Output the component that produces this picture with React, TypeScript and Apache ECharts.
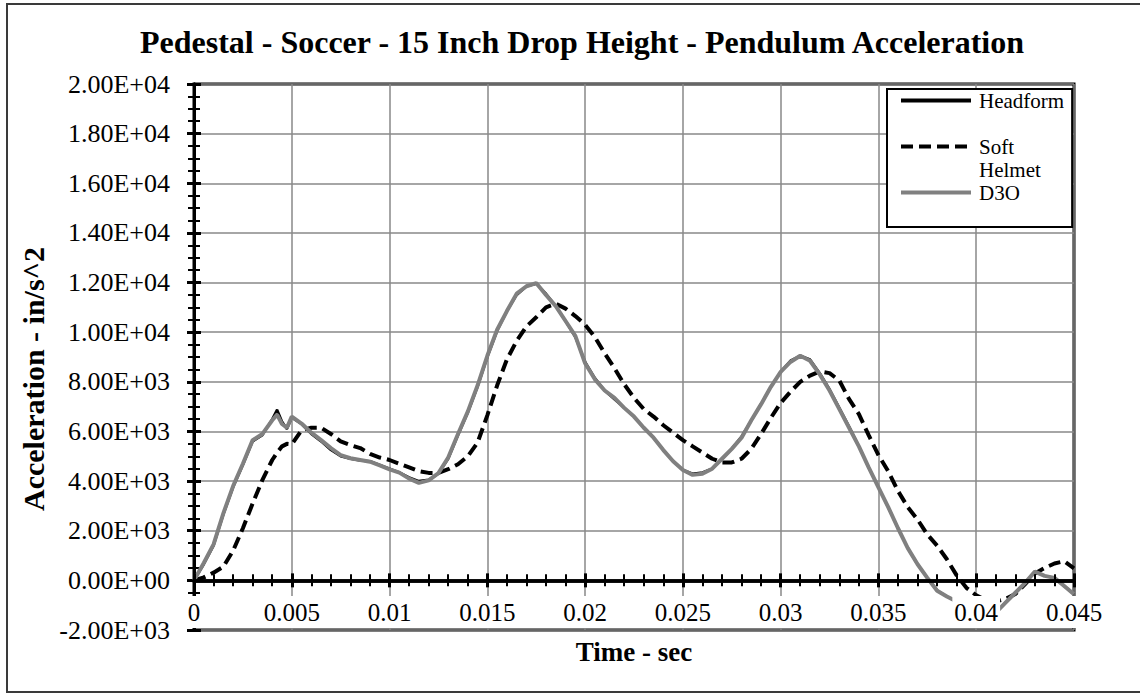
import React, { useEffect, useRef } from "react";
import * as echarts from "echarts";

// Sample times in milliseconds (extra samples around the first peak).
const TIME_MS = [
  0, 0.5, 1, 1.5, 2, 2.5, 3, 3.5, 4, 4.25, 4.5, 4.75,
  5, 5.5, 6, 6.5, 7, 7.5, 8, 8.5, 9, 9.5,
  10, 10.5, 11, 11.5, 12, 12.5, 13, 13.5, 14, 14.5,
  15, 15.5, 16, 16.5, 17, 17.5, 18, 18.5, 19, 19.5,
  20, 20.5, 21, 21.5, 22, 22.5, 23, 23.5, 24, 24.5,
  25, 25.5, 26, 26.5, 27, 27.5, 28, 28.5, 29, 29.5,
  30, 30.5, 31, 31.5, 32, 32.5, 33, 33.5, 34, 34.5,
  35, 35.5, 36, 36.5, 37, 37.5, 38, 38.5, 39, 39.5,
  40, 40.5, 41, 41.5, 42, 42.5, 43, 43.5, 44, 44.5, 45,
];

// Pendulum acceleration, in/s^2
const HEADFORM = [
  0, 650, 1400, 2650, 3750, 4650, 5600, 5850, 6500, 6880, 6400, 6100,
  6550, 6300, 5900, 5600, 5250, 5000, 4900, 4830, 4800, 4650,
  4500, 4350, 4150, 4000, 4050, 4300, 4900, 5850, 6750, 7800,
  9000, 10050, 10850, 11500, 11850, 11950, 11550, 11050, 10450, 9800,
  8800, 8150, 7650, 7300, 6950, 6600, 6150, 5750, 5250, 4800,
  4450, 4300, 4350, 4500, 4900, 5300, 5800, 6450, 7100, 7800,
  8400, 8850, 9050, 8900, 8350, 7700, 6950, 6200, 5400, 4550,
  3750, 2950, 2100, 1300, 650, 100, -400, -650, -850, -1200,
  -1500, -1550, -1300, -900, -500, -100, 350, 180, 100, -230, -560,
];

const SOFT_HELMET = [
  0, 120, 310, 550, 1200, 2100, 3100, 4050, 4850, 5150, 5400, 5500,
  5480, 6050, 6150, 6150, 5900, 5600, 5450, 5330, 5100, 4950,
  4850, 4700, 4550, 4400, 4330, 4330, 4480, 4680, 5000, 5550,
  6650, 7850, 8900, 9650, 10230, 10600, 11000, 11150, 10950, 10650,
  10300, 9800, 9150, 8550, 7900, 7350, 6900, 6600, 6250, 5950,
  5650, 5400, 5150, 4900, 4750, 4750, 4900, 5300, 5900, 6550,
  7150, 7600, 8000, 8250, 8420, 8350, 8050, 7300, 6700, 5850,
  5050, 4400, 3600, 2950, 2450, 1850, 1400, 850, 200, -300,
  -600, -800, -850, -750, -550, -150, 280, 500, 680, 770, 480,
];

const D3O = [
  0, 700, 1450, 2700, 3800, 4700, 5650, 5900, 6450, 6680, 6300, 6150,
  6600, 6320, 5950, 5650, 5330, 5050, 4920, 4850, 4780, 4630,
  4470, 4340, 4100, 3930, 4030, 4320, 4950, 5900, 6800, 7850,
  9050, 10100, 10850, 11550, 11850, 11980, 11500, 11050, 10450, 9850,
  8750, 8100, 7650, 7350, 6950, 6600, 6150, 5750, 5250, 4800,
  4450, 4250, 4300, 4500, 4900, 5300, 5750, 6450, 7100, 7800,
  8400, 8800, 9050, 8850, 8300, 7650, 6900, 6150, 5400, 4550,
  3750, 2950, 2100, 1300, 650, 100, -420, -650, -850, -1200,
  -1500, -1550, -1300, -900, -500, -100, 350, 180, 100, -230, -560,
];

const SERIES_NAMES = ["Headform", "Soft Helmet", "D3O"];

const X_MIN = 0;
const X_MAX = 0.045;
const X_STEP = 0.005;
const Y_MIN = -2000;
const Y_MAX = 20000;
const Y_STEP = 2000;

const FONT = "'Liberation Serif', 'Times New Roman', Times, serif";
const GRID_GREY = "#888888";

const toPairs = (values: number[]) => TIME_MS.map((t, i) => [t / 1000, values[i]]);

// 2.00E+04 style labels
const fmtExp = (v: number) => {
  const [mant, exp] = v.toExponential(2).split("e");
  const n = Math.abs(parseInt(exp, 10));
  return `${mant}E${exp[0] === "-" ? "-" : "+"}${String(n).padStart(2, "0")}`;
};

const fmtTime = (v: number) => String(+v.toFixed(3));

export default function App() {
  const ref = useRef<HTMLDivElement>(null);

  useEffect(() => {
    if (!ref.current) return;
    const chart = echarts.init(ref.current, undefined, { renderer: "svg" });

    const xBase = {
      type: "value" as const,
      min: X_MIN,
      max: X_MAX,
      interval: X_STEP,
      position: "bottom" as const,
    };
    const yBase = {
      type: "value" as const,
      min: Y_MIN,
      max: Y_MAX,
      interval: Y_STEP,
      position: "left" as const,
    };
    const zeroLine = {
      show: true,
      onZero: true,
      onZeroAxisIndex: 0,
      lineStyle: { color: "#000", width: 3.5 },
    };

    chart.setOption({
      animation: false,
      backgroundColor: "#ffffff",
      title: {
        text: "Pedestal - Soccer - 15 Inch Drop Height - Pendulum Acceleration",
        left: 140,
        top: 26,
        padding: 0,
        textStyle: { fontFamily: FONT, fontWeight: "bold", fontSize: 32, color: "#000" },
      },
      graphic: [
        {
          type: "rect",
          silent: true,
          z: -1,
          shape: { x: 7, y: 4, width: 1140, height: 688 },
          style: { fill: "none", stroke: "#3a3a3a", lineWidth: 2 },
        },
      ],
      grid: {
        left: 194,
        top: 84,
        right: 66,
        bottom: 64,
        outerBoundsMode: "none",
        containLabel: false,
        show: true,
        borderColor: "#000",
        borderWidth: 3,
        backgroundColor: "transparent",
      },
      legend: {
        orient: "vertical",
        left: 887,
        top: 89,
        itemWidth: 70,
        itemHeight: 14,
        itemGap: 0,
        padding: [0, 8, 23, 12],
        borderColor: "#000",
        borderWidth: 2,
        backgroundColor: "#fff",
        selectedMode: false,
        lineStyle: { width: 4 },
        itemStyle: { opacity: 0, borderWidth: 0 },
        textStyle: {
          fontFamily: FONT,
          fontSize: 21,
          lineHeight: 23,
          color: "#000",
          padding: [0, 0, 0, 3],
        },
        // the second entry wraps onto two lines, first line level with its key
        formatter: (name: string) => (name === "Soft Helmet" ? "\nSoft\nHelmet" : name),
        data: SERIES_NAMES,
      },
      xAxis: [
        {
          // vertical gridlines
          ...xBase,
          z: 0,
          axisLine: { show: false, onZero: false },
          axisTick: { show: false },
          axisLabel: { show: false },
          splitLine: { show: true, lineStyle: { color: GRID_GREY, width: 1.5 } },
        },
        {
          // axis line through zero with outward ticks
          ...xBase,
          z: 10,
          axisLine: zeroLine,
          axisTick: { show: true, inside: false, length: 7, lineStyle: { color: "#000", width: 3 } },
          minorTick: { show: true, splitNumber: 5, length: 6, lineStyle: { color: "#000", width: 2 } },
          axisLabel: { show: false },
          splitLine: { show: false },
        },
        {
          // inward ticks on the same line
          ...xBase,
          z: 10,
          axisLine: zeroLine,
          axisTick: { show: true, inside: true, length: 7, lineStyle: { color: "#000", width: 3 } },
          minorTick: { show: true, splitNumber: 5, length: 6, lineStyle: { color: "#000", width: 2 } },
          axisLabel: { show: false },
          splitLine: { show: false },
        },
        {
          // tick labels (opaque, above the curves) and axis title
          ...xBase,
          z: 10,
          axisLine: { show: false, onZero: false },
          axisTick: { show: false },
          axisLabel: {
            show: true,
            inside: true,
            margin: 2,
            fontFamily: FONT,
            fontSize: 25,
            lineHeight: 28,
            color: "#000",
            backgroundColor: "#fff",
            padding: [2, 2, 2, 2],
            formatter: fmtTime,
          },
          splitLine: { show: false },
          name: "Time - sec",
          nameLocation: "middle",
          nameGap: 8,
          nameTextStyle: { fontFamily: FONT, fontWeight: "bold", fontSize: 27, color: "#000" },
        },
      ],
      yAxis: [
        {
          ...yBase,
          axisLine: { show: true, onZero: false, lineStyle: { color: "#000", width: 3 } },
          axisTick: { show: true, inside: false, length: 7, lineStyle: { color: "#000", width: 3 } },
          minorTick: { show: true, splitNumber: 4, length: 6, lineStyle: { color: "#000", width: 2 } },
          axisLabel: {
            show: true,
            margin: 24,
            fontFamily: FONT,
            fontSize: 26,
            color: "#000",
            formatter: fmtExp,
          },
          splitLine: { show: true, lineStyle: { color: GRID_GREY, width: 1.5 } },
          name: "Acceleration - in/s^2",
          nameLocation: "middle",
          nameGap: 143,
          nameTextStyle: {
            fontFamily: FONT,
            fontWeight: "bold",
            fontSize: 30,
            color: "#000",
            padding: [0, 44, 0, 0],
          },
        },
        {
          ...yBase,
          axisLine: { show: true, onZero: false, lineStyle: { color: "#000", width: 3 } },
          axisTick: { show: true, inside: true, length: 7, lineStyle: { color: "#000", width: 3 } },
          minorTick: { show: true, splitNumber: 4, length: 6, lineStyle: { color: "#000", width: 2 } },
          axisLabel: { show: false },
          splitLine: { show: false },
        },
      ],
      series: [
        {
          name: SERIES_NAMES[0],
          type: "line",
          xAxisIndex: 0,
          yAxisIndex: 0,
          symbol: "none",
          data: toPairs(HEADFORM),
          lineStyle: { color: "#000", width: 2.5 },
          itemStyle: { color: "#000" },
        },
        {
          name: SERIES_NAMES[1],
          type: "line",
          xAxisIndex: 0,
          yAxisIndex: 0,
          symbol: "none",
          data: toPairs(SOFT_HELMET),
          lineStyle: { color: "#000", width: 4, type: [12, 6] },
          itemStyle: { color: "#000" },
        },
        {
          name: SERIES_NAMES[2],
          type: "line",
          xAxisIndex: 0,
          yAxisIndex: 0,
          symbol: "none",
          data: toPairs(D3O),
          lineStyle: { color: "#808080", width: 4 },
          itemStyle: { color: "#808080" },
        },
      ],
    });

    return () => chart.dispose();
  }, []);

  return (
    <div
      ref={ref}
      style={{ position: "fixed", left: 0, top: 0, width: 1140, height: 694 }}
    />
  );
}
